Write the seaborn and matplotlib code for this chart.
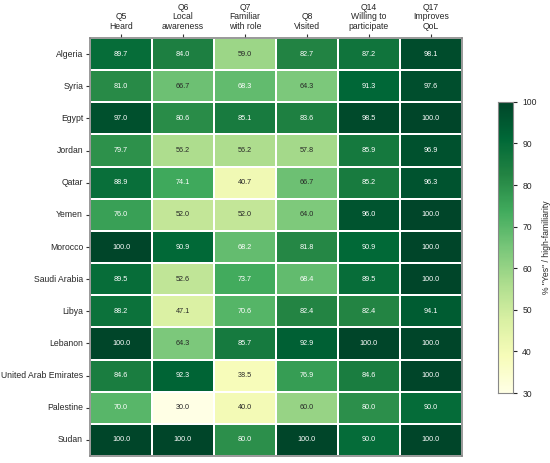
import seaborn as sns
import pandas as pd
import matplotlib.pyplot as plt

# Data
countries = ['Algeria', 'Syria', 'Egypt', 'Jordan', 'Qatar', 'Yemen', 'Morocco',
             'Saudi Arabia', 'Libya', 'Lebanon', 'United Arab Emirates', 'Palestine', 'Sudan']
questions = ['Q5\nHeard', 'Q6\nLocal\nawareness', 'Q7\nFamiliar\nwith role', 'Q8\nVisited',
             'Q14\nWilling to\nparticipate', 'Q17\nImproves\nQoL']
q5 = [89.7, 81.0, 97.0, 79.7, 88.9, 76.0, 100.0, 89.5, 88.2, 100.0, 84.6, 70.0, 100.0]
q6 = [84.0, 66.7, 80.6, 56.2, 74.1, 52.0, 90.9, 52.6, 47.1, 64.3, 92.3, 30.0, 100.0]
q7 = [59.0, 68.3, 85.1, 56.2, 40.7, 52.0, 68.2, 73.7, 70.6, 85.7, 38.5, 40.0, 80.0]
q8 = [82.7, 64.3, 83.6, 57.8, 66.7, 64.0, 81.8, 68.4, 82.4, 92.9, 76.9, 60.0, 100.0]
q14 = [87.2, 91.3, 98.5, 85.9, 85.2, 96.0, 90.9, 89.5, 82.4, 100.0, 84.6, 80.0, 90.0]
q17 = [98.1, 97.6, 100.0, 96.9, 96.3, 100.0, 100.0, 100.0, 94.1, 100.0, 100.0, 90.0, 100.0]

data = pd.DataFrame(dict(zip(questions, [q5, q6, q7, q8, q14, q17])), index=countries)

sns.set_style('ticks')
plt.rcParams['font.family'] = ['Liberation Sans', 'DejaVu Sans']

fig = plt.figure(figsize=(5.5, 4.63), dpi=100)
ax = fig.add_axes([0.1636, 0.015, 0.676, 0.903])
cax = fig.add_axes([0.905, 0.151, 0.028, 0.629])

sns.heatmap(data, ax=ax, cbar_ax=cax, cmap='YlGn', vmin=30, vmax=100,
            annot=True, fmt='.1f', annot_kws={'fontsize': 5.2},
            linewidths=1.2, linecolor='white',
            cbar_kws={'label': '% "Yes" / high-familiarity'})

ax.xaxis.tick_top()
ax.xaxis.set_label_position('top')
ax.set_xlabel('')
ax.set_ylabel('')
ax.tick_params(axis='x', labelsize=6.2, rotation=0, length=3, color='#333333', pad=2)
ax.tick_params(axis='y', labelsize=6.2, rotation=0, length=3, color='#333333', pad=2)
for lbl in ax.get_xticklabels():
    lbl.set_linespacing(1.1)
for s in ax.spines.values():
    s.set_visible(True)
    s.set_color('#888888')
    s.set_linewidth(1.2)

cax.tick_params(labelsize=6.2, length=3)
cax.yaxis.label.set_size(6.2)
for s in cax.spines.values():
    s.set_visible(True)
    s.set_color('#888888')

fig.savefig('out.png', dpi=100)
